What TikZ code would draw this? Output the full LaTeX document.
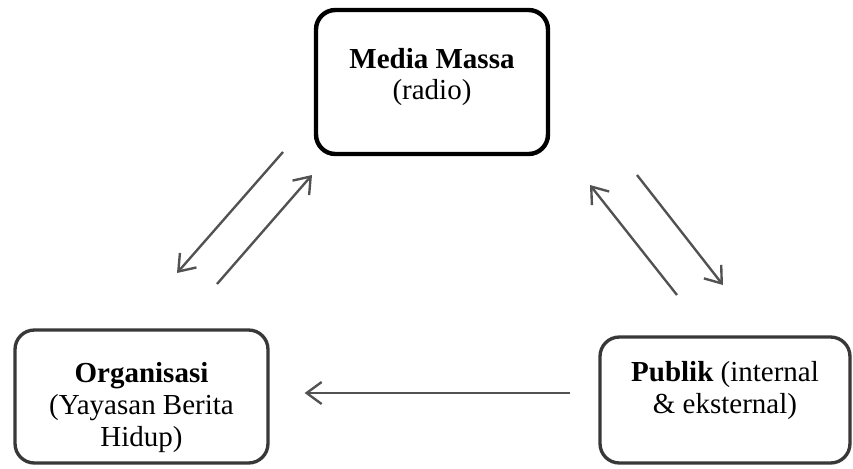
\documentclass[tikz,border=0pt]{standalone}
\usepackage{fontspec}
\setmainfont{Liberation Serif}
\usepackage{tikz}
\usetikzlibrary{arrows.meta, positioning, calc}
\tikzset{
  actorbox/.style={
    draw, rounded corners=11pt, align=center,
    font=\fontsize{16.5}{18}\selectfont, fill=white
  },
  mediabox/.style={
    actorbox, line width=2.5pt, draw=black,
    minimum width=4.64cm, minimum height=2.88cm
  },
  sidebox/.style={
    actorbox, line width=1.9pt, draw=black!78
  },
  flowarrow/.style={
    -{Straight Barb[length=3mm, width=4.4mm]}, line width=1.35pt,
    color=black!68
  },
}

\begin{document}
\begin{tikzpicture}[x=0.02cm, y=-0.02cm]
  \useasboundingbox (0,0) rectangle (853,468);

  % ── the three actors ──
  \node[mediabox, text depth=9pt] (media) at (432,82)
    {\textbf{Media Massa}\\(radio)};
  \node[sidebox, minimum width=5.06cm, minimum height=2.66cm,
    text height=60pt] (org)
    at (141.5,396.5) {\textbf{Organisasi}\\(Yayasan Berita\\Hidup)};
  \node[sidebox, minimum width=5.0cm, minimum height=2.52cm,
    text depth=14pt] (publik)
    at (725,400) {\textbf{Publik} (internal\\\& eksternal)};

  % ── arrow ends ──
  \coordinate (mo1) at (283,152);
  \coordinate (mo2) at (177,273);
  \coordinate (om1) at (217,284);
  \coordinate (om2) at (312,175);
  \coordinate (pm1) at (677,295);
  \coordinate (pm2) at (590,185);
  \coordinate (mp1) at (637,175);
  \coordinate (mp2) at (723,285);

  % ── media <-> organisasi ──
  \draw[flowarrow] (mo1) -- (mo2);
  \draw[flowarrow] (om1) -- (om2);

  % ── media <-> publik ──
  \draw[flowarrow] (pm1) -- (pm2);
  \draw[flowarrow] (mp1) -- (mp2);

  % ── publik -> organisasi ──
  \draw[flowarrow, shorten <=0.56cm, shorten >=0.7cm]
    ([yshift=0.14cm]publik.west) -- ([yshift=0.14cm]publik.west -| org.east);
\end{tikzpicture}
\end{document}
